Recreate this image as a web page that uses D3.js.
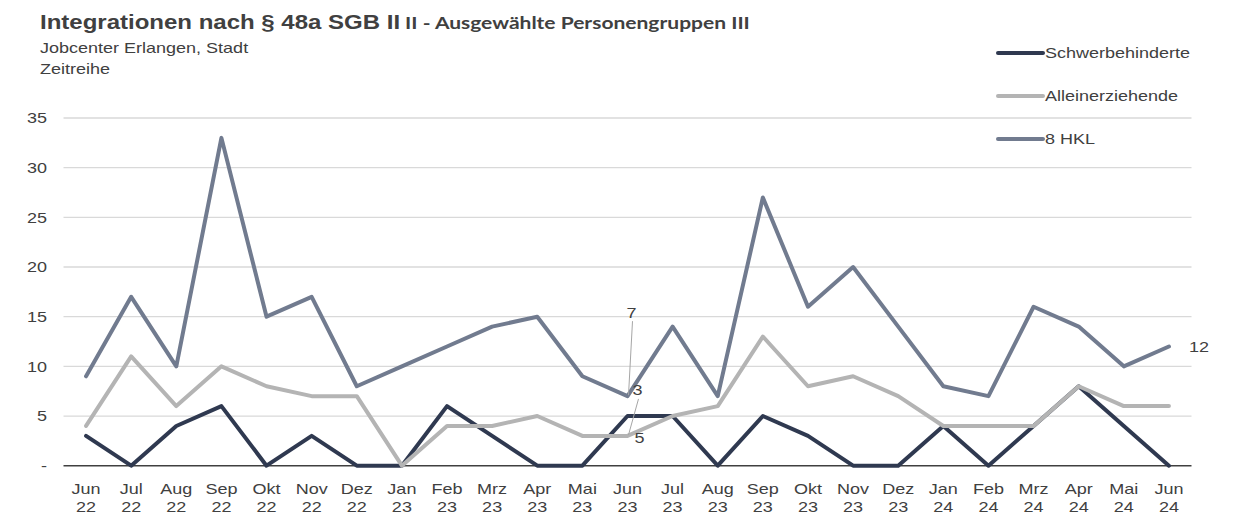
<!DOCTYPE html>
<html>
<head>
<meta charset="utf-8">
<script src="https://cdn.jsdelivr.net/npm/d3@7"></script>
<style>
  body { margin: 0; background: #fff; }
  text { font-family: Arial, "Liberation Sans", sans-serif; fill: #404040; font-size: 15px; }
</style>
</head>
<body>
<svg id="chart" width="1259" height="518"></svg>
<script>
// Data
const months = ["Jun", "Jul", "Aug", "Sep", "Okt", "Nov", "Dez", "Jan", "Feb", "Mrz", "Apr", "Mai",
                "Jun", "Jul", "Aug", "Sep", "Okt", "Nov", "Dez", "Jan", "Feb", "Mrz", "Apr", "Mai", "Jun"];
const years = ["22", "22", "22", "22", "22", "22", "22", "23", "23", "23", "23", "23",
               "23", "23", "23", "23", "23", "23", "23", "24", "24", "24", "24", "24", "24"];
const schwerbehinderte = [3, 0, 4, 6, 0, 3, 0, 0, 6, 3, 0, 0, 5, 5, 0, 5, 3, 0, 0, 4, 0, 4, 8, 4, 0];
const alleinerziehende = [4, 11, 6, 10, 8, 7, 7, 0, 4, 4, 5, 3, 3, 5, 6, 13, 8, 9, 7, 4, 4, 4, 8, 6, 6];
const hkl8 = [9, 17, 10, 33, 15, 17, 8, 10, 12, 14, 15, 9, 7, 14, 7, 27, 16, 20, 14, 8, 7, 16, 14, 10, 12];
const yTicks = [0, 5, 10, 15, 20, 25, 30, 35];

const series = [
  { name: "Schwerbehinderte", values: schwerbehinderte, color: "#2f3950" },
  { name: "Alleinerziehende", values: alleinerziehende, color: "#b4b4b4" },
  { name: "8 HKL", values: hkl8, color: "#717b8f" }
];

// the exported chart has its text drawn a bit wider than plain Arial
const STRETCH = 1.2;
function stretch(node) {
  const w = node.getComputedTextLength();
  node.setAttribute("textLength", w * STRETCH);
  node.setAttribute("lengthAdjust", "spacingAndGlyphs");
  return w * STRETCH;
}

const svg = d3.select("#chart");
const keys = months.map((m, i) => i);

const x = d3.scaleBand().domain(keys).range([63.5, 1191.5]);
const cx = i => x(i) + x.bandwidth() / 2;
const y = d3.scaleLinear().domain([0, 35]).range([465.7, 118]);

// Title (two parts in two fonts)
const t1 = svg.append("text").attr("x", 40).attr("y", 29)
  .style("font-weight", "bold").style("font-size", "20px")
  .text("Integrationen nach § 48a SGB II");
const w1 = stretch(t1.node());
const t2 = svg.append("text").attr("x", 40 + w1 + 5).attr("y", 29)
  .style("font-weight", "bold").style("font-family", "Lato, 'Open Sans', sans-serif").style("font-size", "17.5px")
  .text("II - Ausgewählte Personengruppen III");
stretch(t2.node());
svg.append("text").attr("x", 40).attr("y", 53).text("Jobcenter Erlangen, Stadt");
svg.append("text").attr("x", 40).attr("y", 74).text("Zeitreihe");

// Gridlines
svg.append("g").selectAll("line").data(yTicks.filter(d => d > 0)).join("line")
  .attr("x1", 63.5).attr("x2", 1191.5)
  .attr("y1", d => y(d)).attr("y2", d => y(d))
  .attr("stroke", "#d9d9d9").attr("stroke-width", 1.3);

// Y axis labels
svg.append("g").selectAll("text").data(yTicks).join("text")
  .attr("x", 47).attr("y", d => y(d)).attr("dy", "0.36em")
  .attr("text-anchor", "end")
  .text(d => d === 0 ? "-" : d);

// X axis line
svg.append("line").attr("x1", 63.5).attr("x2", 1191.5)
  .attr("y1", y(0)).attr("y2", y(0))
  .attr("stroke", "#404040").attr("stroke-width", 1.5);

// X axis labels (two lines)
const xg = svg.append("g");
xg.selectAll("text.m").data(keys).join("text").attr("class", "m")
  .attr("text-anchor", "middle").attr("x", d => cx(d)).attr("y", 494).text(d => months[d]);
xg.selectAll("text.yr").data(keys).join("text").attr("class", "yr")
  .attr("text-anchor", "middle").attr("x", d => cx(d)).attr("y", 512).text(d => years[d]);

// Lines
const line = d3.line().x((d, i) => cx(i)).y(d => y(d));
svg.append("g").selectAll("path").data(series).join("path")
  .attr("d", d => line(d.values))
  .attr("fill", "none")
  .attr("stroke", d => d.color)
  .attr("stroke-width", 4)
  .attr("stroke-linejoin", "round")
  .attr("stroke-linecap", "round");

// Data labels at Jun 23 with leader lines
const j = 12;
const labels = [
  { v: hkl8[j], dx: 4, dy: -84, lead: true },
  { v: alleinerziehende[j], dx: 10, dy: -46, lead: true },
  { v: schwerbehinderte[j], dx: 12, dy: 22, lead: false }
];
labels.forEach(l => {
  const px = cx(j), py = y(l.v);
  if (l.lead) {
    svg.append("line")
      .attr("x1", px + l.dx + 1).attr("y1", py + l.dy + 9)
      .attr("x2", px + 1).attr("y2", py - 1)
      .attr("stroke", "#a6a6a6").attr("stroke-width", 1);
  }
  svg.append("text").attr("x", px + l.dx).attr("y", py + l.dy).attr("dy", "0.36em")
    .attr("text-anchor", "middle").text(l.v);
});
// End label
const last = hkl8.length - 1;
svg.append("text").attr("x", cx(last) + 20).attr("y", y(hkl8[last])).attr("dy", "0.36em")
  .text(hkl8[last]);

// Legend
const lg = svg.append("g").selectAll("g").data(series).join("g")
  .attr("transform", (d, i) => `translate(998, ${53 + i * 43})`);
lg.append("line").attr("x1", 0).attr("x2", 45).attr("y1", 0).attr("y2", 0)
  .attr("stroke", d => d.color).attr("stroke-width", 4).attr("stroke-linecap", "round");
lg.append("text").attr("x", 47).attr("dy", "0.36em").text(d => d.name);

// widen the remaining labels like the original
svg.selectAll("text").filter(function() { return !this.hasAttribute("textLength"); })
  .each(function() { stretch(this); });
</script>
</body>
</html>
